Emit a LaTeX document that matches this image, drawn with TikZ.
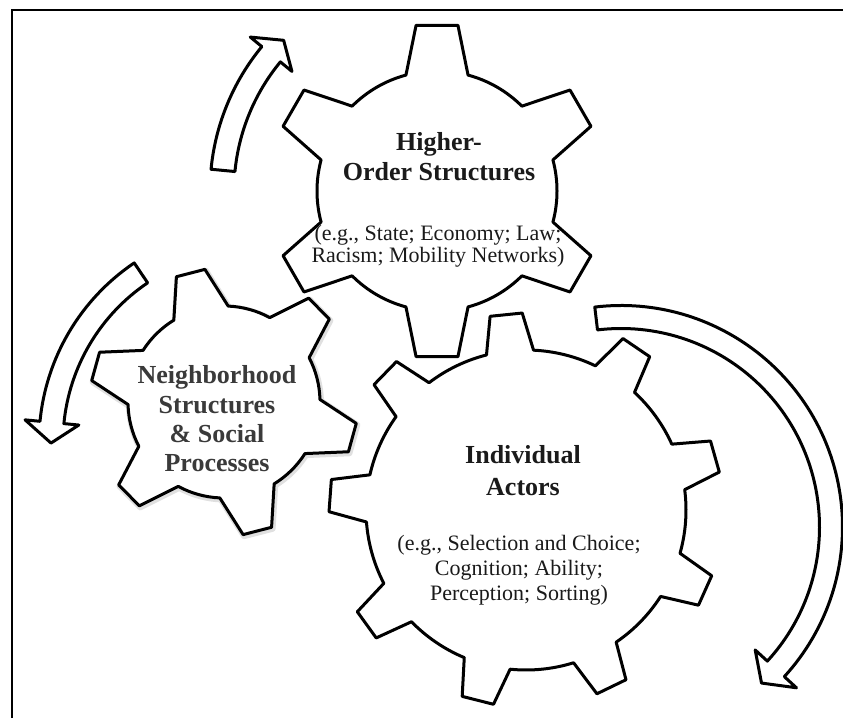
\documentclass[tikz,border=0pt]{standalone}
\usepackage{fontspec}
\usetikzlibrary{calc}
\setmainfont{Liberation Serif}
\newcommand\gearshape[8]{%
  \path[#8, shift={#1}] ({#3-#7}:#5pt)
  \foreach \k in {1,...,#2}{
    -- ({#3+(\k-1)*360/#2-#6}:#4pt) -- ({#3+(\k-1)*360/#2+#6}:#4pt) -- ({#3+(\k-1)*360/#2+#7}:#5pt)
    arc[start angle={#3+(\k-1)*360/#2+#7}, end angle={#3+\k*360/#2-#7}, radius=#5pt]
  } -- cycle;
}
\newcommand\curvedarrow[8]{%
  \path[#8, shift={#1}] (#4:{#2pt+#3pt})
    arc[start angle=#4, end angle=#5, radius={#2pt+#3pt}]
    -- (#5:{#2pt+#7pt}) -- (#6:#2pt) -- (#5:{#2pt-#7pt}) -- (#5:{#2pt-#3pt})
    arc[start angle=#5, end angle=#4, radius={#2pt-#3pt}] -- cycle;
}
\definecolor{txt}{HTML}{1A1A1A}
\definecolor{nbtxt}{HTML}{3A3A3A}
\tikzset{
  gearline/.style={draw=black, fill=white, line width=3pt, line join=round},
  gearshadow/.style={draw=black!12, fill=black!12, line width=6pt, line join=round},
  blockarrow/.style={draw=black, fill=white, line width=3pt, line join=round},
  frameline/.style={draw=black, line width=2pt},
  titletext/.style={align=center, text=txt, font=\fontsize{26}{30}\selectfont\bfseries},
  exampletext/.style={align=center, text=txt, font=\fontsize{22}{22}\selectfont},
}
\begin{document}
\begin{tikzpicture}[x=1pt,y=1pt]
\useasboundingbox (0,0) rectangle (843,718);
\fill[white] (0,0) rectangle (843,718);
\draw[frameline] (12,0) -- (12,708) -- (843,708);
% gear centres
\coordinate (gtop) at (437,527);
\coordinate (gnb) at (224,316);
\coordinate (gnbs) at (225,314.5);
\coordinate (gind) at (526,208);
% gears
\gearshape{(gtop)}{6}{90}{167}{120}{7.2}{15}{gearline}
\gearshape{(gnbs)}{6}{104.5}{134}{96}{6.3}{17}{gearshadow}
\gearshape{(gnb)}{6}{104.5}{134}{96}{6.3}{17}{gearline}
\gearshape{(gind)}{9}{95.8}{197}{160}{4.7}{8.5}{gearline}
% rotation arrows
\coordinate (ca1) at (437,527);
\coordinate (ca2) at (255,276);
\coordinate (ca3) at (621,191);
\curvedarrow{(ca1)}{215}{12}{174.5}{140.5}{135.5}{27}{blockarrow}
\curvedarrow{(ca2)}{204}{12}{124}{174.5}{180.3}{27}{blockarrow}
\curvedarrow{(ca3)}{210}{11.5}{96.8}{-42.5}{-48}{28}{blockarrow}
% texts
\node[titletext] (hos) at (439,561) {Higher-\\Order Structures};
\node[exampletext, font=\fontsize{22}{21.5}\selectfont] (hosx) at (438,472) {(e.g., State; Economy; Law;\\Racism; Mobility Networks)};
\node[titletext, text=nbtxt, font=\fontsize{26}{29.3}\selectfont\bfseries] (nbh) at (217,299) {Neighborhood\\Structures\\\& Social\\Processes};
\node[titletext, font=\fontsize{26}{32}\selectfont\bfseries] (ind) at (523,247) {Individual\\Actors};
\node[exampletext, font=\fontsize{22}{25}\selectfont] (indx) at (519,148) {(e.g., Selection and Choice;\\Cognition; Ability;\\Perception; Sorting)};
\end{tikzpicture}
\end{document}
